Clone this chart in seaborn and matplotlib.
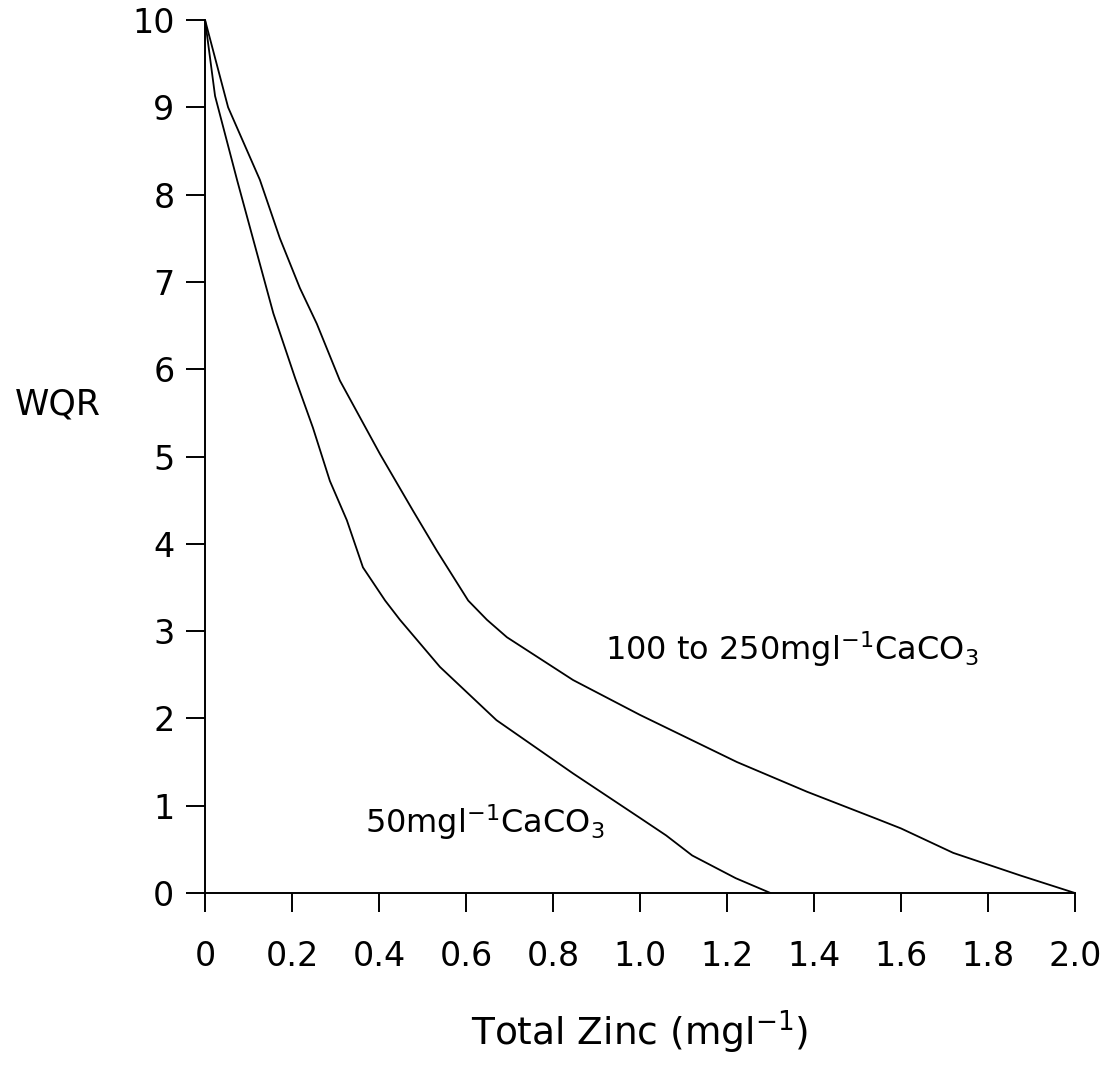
import matplotlib
matplotlib.use("Agg")
import matplotlib.pyplot as plt
import seaborn as sns
import pandas as pd

# Upper curve: 100 to 250 mg/l CaCO3
zinc_high = [0.0, 0.053, 0.126, 0.172, 0.218, 0.257, 0.31, 0.402, 0.478, 0.533,
             0.605, 0.648, 0.694, 0.846, 1.0, 1.223, 1.384, 1.544, 1.6, 1.72, 1.875, 2.0]
wqr_high = [10.0, 9.0, 8.17, 7.5, 6.93, 6.52, 5.87, 5.03, 4.38, 3.92,
            3.35, 3.13, 2.93, 2.44, 2.04, 1.5, 1.16, 0.85, 0.74, 0.46, 0.2, 0.0]

# Lower curve: 50 mg/l CaCO3
zinc_low = [0.0, 0.023, 0.074, 0.11, 0.157, 0.207, 0.248, 0.287, 0.326, 0.363, 0.414,
            0.448, 0.54, 0.67, 0.846, 1.0, 1.06, 1.12, 1.22, 1.30]
wqr_low = [10.0, 9.13, 8.16, 7.5, 6.64, 5.9, 5.33, 4.72, 4.27, 3.73, 3.35,
           3.13, 2.59, 1.98, 1.37, 0.86, 0.66, 0.43, 0.17, 0.0]

x_ticks = [0, 0.2, 0.4, 0.6, 0.8, 1.0, 1.2, 1.4, 1.6, 1.8, 2.0]
x_tick_labels = ["0", "0.2", "0.4", "0.6", "0.8", "1.0", "1.2", "1.4", "1.6", "1.8", "2.0"]
y_ticks = list(range(0, 11))

label_high = "100 to 250mgl$^{-1}$CaCO$_3$"
label_low = "50mgl$^{-1}$CaCO$_3$"

df = pd.concat([
    pd.DataFrame({"zinc": zinc_high, "wqr": wqr_high, "series": "high"}),
    pd.DataFrame({"zinc": zinc_low, "wqr": wqr_low, "series": "low"}),
], ignore_index=True)

sns.set_style("ticks")
plt.rcParams["font.family"] = ["DejaVu Sans"]
plt.rcParams["mathtext.fontset"] = "dejavusans"
plt.rcParams["text.color"] = "black"
plt.rcParams["axes.labelcolor"] = "black"

fig = plt.figure(figsize=(11.12, 10.70), dpi=100)
ax = fig.add_axes([0.1844, 0.1654, 0.7823, 0.8159])

sns.lineplot(data=df, x="zinc", y="wqr", units="series", estimator=None,
             color="black", linewidth=1.3, sort=False, ax=ax)

ax.set_xlim(0, 2.0)
ax.set_ylim(0, 10)
ax.set_xticks(x_ticks)
ax.set_xticklabels(x_tick_labels)
ax.set_yticks(y_ticks)
sns.despine(ax=ax)
for s in ["left", "bottom"]:
    ax.spines[s].set_linewidth(1.4)
    ax.spines[s].set_color("black")

ax.tick_params(axis="both", direction="out", length=14, width=1.4, colors="black",
               labelsize=24)
ax.tick_params(axis="x", pad=20)
ax.tick_params(axis="y", pad=8)

ax.set_xlabel("Total Zinc (mgl$^{-1}$)", fontsize=27, va="baseline")
ax.xaxis.set_label_coords(0.5, -0.174)
ax.set_ylabel("WQR", fontsize=25, rotation=0, ha="center", va="center")
ax.yaxis.set_label_coords(-0.169, 0.56)

ax.text(0.92, 2.67, label_high, fontsize=23, va="baseline", ha="left")
ax.text(0.368, 0.69, label_low, fontsize=23, va="baseline", ha="left")

fig.savefig("out.png", dpi=100, facecolor="white")
